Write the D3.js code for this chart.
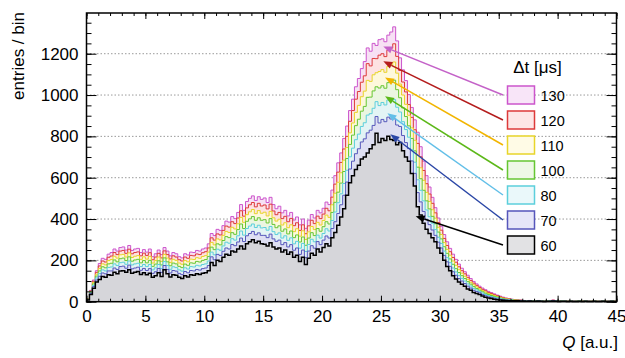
<!DOCTYPE html>
<html>
<head>
<meta charset="utf-8">
<script src="https://cdn.jsdelivr.net/npm/d3@7"></script>
<style>
body { margin: 0; background: #fff; }
text { font-family: "Liberation Sans", Arial, Helvetica, sans-serif; fill: #000; }
</style>
</head>
<body>
<svg id="chart" width="625" height="358"></svg>
<script>
// histogram binning along Q [a.u.]
const qMin = 0, qMax = 45, binWidth = 0.25;

// entries per bin (one array per Δt)
const h60 = [
  8,35,65,95, 108,122,118,130, 128,142,135,148, 150,142,155,138, 142,146,132,140,
  130,138,118,125, 140,122,155,135, 120,130,128,118, 112,126,120,130, 128,135,132,138,
  140,150,190,175, 200,195,215,230, 225,245,240,255, 270,255,280,290, 300,285,292,280,
  278,270,285,265, 255,260,240,250, 230,240,215,225, 195,215,180,210, 235,225,255,240,
  262,280,270,310, 335,370,410,450, 515,575,610,640, 660,690,700,720, 740,760,815,770,
  790,780,800,785, 780,760,770,730, 700,680,620,560, 460,420,380,350, 330,310,290,260,
  235,200,170,150, 125,110,95,85, 75,62,55,45, 40,35,28,22, 18,15,12,10,
  8,7,6,5, 5,4,4,3, 3,2,3,2, 2,3,2,1, 2,2,3,2,
  1,2,2,1, 2,1,1,2, 1,2,1,1, 2,1,1,2, 1,1,2,1
];
const h70 = [
  9,39,73,105, 123,139,135,149, 149,163,156,170, 172,162,177,159, 163,167,152,161,
  151,160,137,145, 161,142,175,156, 139,151,148,137, 131,146,140,151, 149,156,153,160,
  163,175,217,203, 229,224,244,260, 255,277,271,289, 308,291,319,330, 340,324,333,321,
  321,310,327,304, 292,298,276,286, 265,276,249,260, 229,250,213,245, 271,259,291,276,
  298,318,308,354, 387,427,469,515, 579,642,680,716, 740,773,788,817, 830,853,896,865,
  882,871,893,884, 885,855,848,804, 770,741,681,621, 528,483,437,399, 373,347,321,288,
  260,224,193,171, 145,128,112,100, 88,75,66,55, 49,43,35,29, 24,21,17,14,
  12,10,8,7, 6,5,5,4, 3,3,4,2, 2,3,3,2, 2,3,4,3,
  2,2,2,1, 2,2,2,2, 1,2,2,1, 2,1,2,2, 1,2,2,1
];
const h80 = [
  11,42,79,115, 136,154,149,166, 168,183,175,189, 191,181,197,178, 183,186,170,180,
  170,180,154,164, 180,160,194,175, 157,169,165,154, 148,164,158,170, 168,176,173,180,
  183,197,240,227, 254,249,270,288, 283,305,298,319, 342,322,354,366, 376,359,370,357,
  359,346,364,339, 325,333,308,319, 297,309,280,292, 259,282,243,277, 302,290,322,308,
  330,353,342,393, 434,479,522,572, 636,701,743,784, 811,848,866,903, 910,936,968,949,
  964,952,976,972, 978,941,918,871, 833,796,735,675, 590,539,488,444, 411,380,349,312,
  282,245,213,189, 163,144,126,113, 100,86,76,64, 57,49,42,35, 30,25,21,18,
  15,12,10,9, 8,6,6,5, 4,3,4,3, 3,4,3,2, 3,3,5,3,
  2,3,3,2, 3,2,2,3, 2,3,2,2, 3,2,2,3, 2,2,3,2
];
const h100 = [
  12,46,86,124, 149,169,164,183, 186,202,193,208, 211,199,217,196, 202,205,188,199,
  188,200,171,182, 198,178,212,193, 174,187,183,171, 165,182,176,188, 186,195,192,200,
  204,219,264,252, 280,275,296,315, 310,334,326,349, 376,354,389,401, 412,394,406,394,
  397,381,402,374, 358,367,341,352, 328,342,310,323, 289,313,273,308, 334,320,354,341,
  363,387,376,432, 481,530,574,630, 693,761,806,852, 883,922,945,989, 990,1020,1040,1034,
  1045,1033,1060,1061, 1072,1026,987,938, 896,851,790,730, 651,595,539,488, 449,413,377,337,
  304,266,234,207, 181,160,141,126, 112,97,85,73, 64,56,48,41, 35,30,26,22,
  18,15,12,10, 9,7,7,6, 4,4,4,3, 3,4,3,3, 3,4,5,4,
  3,3,3,2, 3,2,3,3, 2,3,2,2, 3,2,2,3, 2,2,3,2
];
const h110 = [
  13,49,93,133, 161,183,178,199, 204,220,211,227, 229,216,236,214, 220,223,205,217,
  206,219,187,199, 216,195,229,211, 190,205,200,187, 181,199,193,206, 204,213,210,219,
  223,240,287,275, 304,299,321,340, 335,360,352,377, 408,384,421,435, 446,426,441,428,
  433,415,437,406, 390,399,371,382, 358,372,339,353, 317,343,301,338, 364,349,384,371,
  393,419,408,469, 525,578,624,685, 746,817,865,916, 950,992,1019,1071, 1066,1098,1108,1114,
  1123,1110,1138,1144, 1160,1106,1053,1000, 955,902,841,781, 708,648,587,529, 485,445,404,360,
  325,286,253,225, 197,176,155,138, 123,108,94,82, 72,63,54,47, 40,35,30,25,
  21,17,14,12, 10,8,7,6, 5,4,5,4, 3,5,4,3, 4,5,6,4,
  3,4,3,2, 3,2,3,4, 2,3,2,2, 3,2,2,3, 2,2,3,2
];
const h120 = [
  14,52,99,142, 173,197,192,215, 221,238,228,245, 248,234,254,232, 238,241,222,235,
  224,237,203,216, 234,212,246,228, 207,222,216,203, 197,216,210,224, 222,231,228,237,
  242,260,309,298, 328,323,345,366, 361,387,378,405, 440,414,454,469, 480,459,476,463,
  468,449,472,439, 421,432,402,413, 387,403,368,382, 345,372,329,367, 394,378,414,402,
  424,452,440,506, 569,627,674,739, 800,873,925,980, 1017,1062,1093,1152, 1141,1177,1176,1193,
  1200,1186,1217,1227, 1248,1187,1119,1063, 1015,954,892,832, 766,701,635,571, 521,476,430,383,
  346,306,272,242, 214,191,169,150, 135,118,103,90, 79,69,60,53, 45,40,34,29,
  24,20,16,14, 11,9,8,7, 5,5,5,4, 4,5,4,3, 4,5,7,5,
  3,4,4,3, 4,3,3,4, 3,4,3,3, 4,3,3,4, 3,3,3,3
];
const h130 = [
  15,55,105,150, 185,210,205,230, 238,255,245,262, 265,250,272,248, 255,258,238,252,
  240,255,218,232, 250,228,262,245, 222,238,232,218, 212,232,226,240, 238,248,245,255,
  260,280,330,320, 350,345,368,390, 385,412,402,432, 470,442,485,500, 512,490,508,495,
  502,480,505,470, 450,462,430,442, 415,432,395,410, 372,400,355,395, 422,405,442,430,
  452,482,470,540, 610,672,720,790, 850,925,980,1040, 1080,1128,1162,1228, 1212,1250,1240,1268,
  1272,1258,1290,1305, 1330,1262,1180,1122, 1070,1002,940,880, 820,750,680,610, 555,505,455,405,
  365,325,290,258, 230,205,182,162, 145,128,112,98, 86,75,66,58, 50,44,38,32,
  27,22,18,15, 12,10,9,8, 6,5,6,5, 4,6,5,4, 5,6,8,5,
  4,5,4,3, 4,3,4,5, 3,4,3,3, 4,3,3,4, 3,3,4,3
];

// legend labels (Δt in μs), drawn largest first
const dtLabels = ["130", "120", "110", "100", "80", "70", "60"];
// where each legend arrow points, in (Q, entries)
const arrowTipQ = [25.2, 25.2, 25.35, 25.35, 25.55, 25.8, 27.95];
const arrowTipV = [1235, 1163, 1085, 994, 912, 810, 414];

const yTicks = [0, 200, 400, 600, 800, 1000, 1200];
const xTicks = [0, 5, 10, 15, 20, 25, 30, 35, 40, 45];

const hists = [h130, h120, h110, h100, h80, h70, h60];
const lineColors  = ["#cc55cc", "#dd3a3a", "#e8d52a", "#66c633", "#5ccfdc", "#5656bb", "#000000"];
const fillColors  = ["#f7e1f4", "#fde2e2", "#fef8dc", "#ebf6e1", "#e3f4f5", "#dedff2", "#d6d6da"];
const boxFills    = ["#f8e5f8", "#fde6e6", "#fffbe6", "#eef8e6", "#eaf8fa", "#e6e6f8", "#e2e2e4"];
const arrowColors = ["#c462c8", "#b41c1c", "#f2b500", "#5cb818", "#62bfe8", "#2a46a6", "#000000"];

const svg = d3.select("#chart");
const margin = { left: 86.5, right: 8.5, top: 13, bottom: 56.3 };
const width = 625 - margin.left - margin.right;
const height = 358 - margin.top - margin.bottom;

const x = d3.scaleLinear().domain([qMin, qMax]).range([0, width]);
const y = d3.scaleLinear().domain([0, 1397]).range([height, 0]);

const g = svg.append("g")
    .attr("transform", `translate(${margin.left}, ${margin.top})`);

// dotted horizontal grid
g.append("g")
    .selectAll("line")
    .data(yTicks.filter(d => d > 0))
    .enter().append("line")
    .attr("x1", 0).attr("x2", width)
    .attr("y1", d => y(d)).attr("y2", d => y(d))
    .attr("stroke", "#9a9a9a")
    .attr("stroke-width", 1)
    .attr("stroke-dasharray", "1.5,2");

// histograms, widest first so the narrower ones sit on top
const area = d3.area()
    .curve(d3.curveStepAfter)
    .x(d => x(d[0]))
    .y0(height)
    .y1(d => y(d[1]));
const line = d3.line()
    .curve(d3.curveStepAfter)
    .x(d => x(d[0]))
    .y(d => y(d[1]));

hists.forEach((vals, k) => {
    const pts = vals.map((v, i) => [qMin + i * binWidth, v]);
    pts.push([qMax, vals[vals.length - 1]]);
    g.append("path")
        .attr("d", area(pts))
        .attr("fill", fillColors[k]);
    g.append("path")
        .attr("d", line(pts))
        .attr("fill", "none")
        .attr("stroke", lineColors[k])
        .attr("stroke-width", k === hists.length - 1 ? 1.5 : 1);
});

// axes with inward ticks on all four sides
function styleAxis(sel) {
    sel.select(".domain").remove();
    sel.selectAll(".tick line").attr("stroke", "#000").attr("stroke-width", 1);
    sel.selectAll("text").style("font-size", "17px").attr("font-family", null);
}

g.append("g")
    .attr("transform", `translate(0, ${height})`)
    .call(d3.axisBottom(x).tickValues(d3.range(0, 46, 1)).tickSize(-3).tickFormat(""))
    .call(styleAxis);
g.append("g")
    .attr("transform", `translate(0, ${height})`)
    .call(d3.axisBottom(x).tickValues(xTicks).tickSize(-6).tickPadding(8).tickFormat(d3.format("d")))
    .call(styleAxis);
g.append("g")
    .call(d3.axisTop(x).tickValues(d3.range(0, 46, 1)).tickSize(-3).tickFormat(""))
    .call(styleAxis);
g.append("g")
    .call(d3.axisTop(x).tickValues(xTicks).tickSize(-6).tickFormat(""))
    .call(styleAxis);

g.append("g")
    .call(d3.axisLeft(y).tickValues(d3.range(0, 1397, 50)).tickSize(-5).tickFormat(""))
    .call(styleAxis);
g.append("g")
    .call(d3.axisLeft(y).tickValues(yTicks).tickSize(-10).tickPadding(8).tickFormat(d3.format("d")))
    .call(styleAxis);
g.append("g")
    .attr("transform", `translate(${width}, 0)`)
    .call(d3.axisRight(y).tickValues(d3.range(0, 1397, 50)).tickSize(-5).tickFormat(""))
    .call(styleAxis);
g.append("g")
    .attr("transform", `translate(${width}, 0)`)
    .call(d3.axisRight(y).tickValues(yTicks).tickSize(-10).tickFormat(""))
    .call(styleAxis);

// frame
g.append("rect")
    .attr("width", width).attr("height", height)
    .attr("fill", "none")
    .attr("stroke", "#000")
    .attr("stroke-width", 1.5);

// axis titles
const xTitle = svg.append("text")
    .attr("x", 618).attr("y", 348)
    .attr("text-anchor", "end")
    .style("font-size", "17px");
xTitle.append("tspan").style("font-style", "italic").text("Q");
xTitle.append("tspan").text(" [a.u.]");

svg.append("text")
    .attr("transform", "translate(24, 12) rotate(-90)")
    .attr("text-anchor", "end")
    .style("font-size", "17px")
    .text("entries / bin");

// legend
const legX = 507.5, legY0 = 95, legStep = 25, boxW = 27, boxH = 18;
svg.append("text")
    .attr("x", 537.5).attr("y", 73)
    .attr("text-anchor", "middle")
    .style("font-size", "17px")
    .text("Δt [μs]");

dtLabels.forEach((lab, k) => {
    const cy = legY0 + k * legStep;
    svg.append("rect")
        .attr("x", legX).attr("y", cy - boxH / 2)
        .attr("width", boxW).attr("height", boxH)
        .attr("fill", boxFills[k])
        .attr("stroke", lineColors[k])
        .attr("stroke-width", 1.5);
    svg.append("text")
        .attr("x", legX + boxW + 6).attr("y", cy + 5.5)
        .style("font-size", "14.5px")
        .text(lab);

    // arrow from the legend entry to its histogram
    const x0 = legX - 4.5, y0 = cy;
    const x1 = margin.left + x(arrowTipQ[k]), y1 = margin.top + y(arrowTipV[k]);
    const ang = Math.atan2(y1 - y0, x1 - x0);
    const headL = 9, headW = 3.6;
    const bx = x1 - headL * Math.cos(ang), by = y1 - headL * Math.sin(ang);
    svg.append("line")
        .attr("x1", x0).attr("y1", y0)
        .attr("x2", bx).attr("y2", by)
        .attr("stroke", arrowColors[k])
        .attr("stroke-width", 1.5);
    const px = -Math.sin(ang), py = Math.cos(ang);
    svg.append("path")
        .attr("d", `M${x1},${y1}L${bx + headW * px},${by + headW * py}L${bx - headW * px},${by - headW * py}Z`)
        .attr("fill", arrowColors[k]);
});
</script>
</body>
</html>
